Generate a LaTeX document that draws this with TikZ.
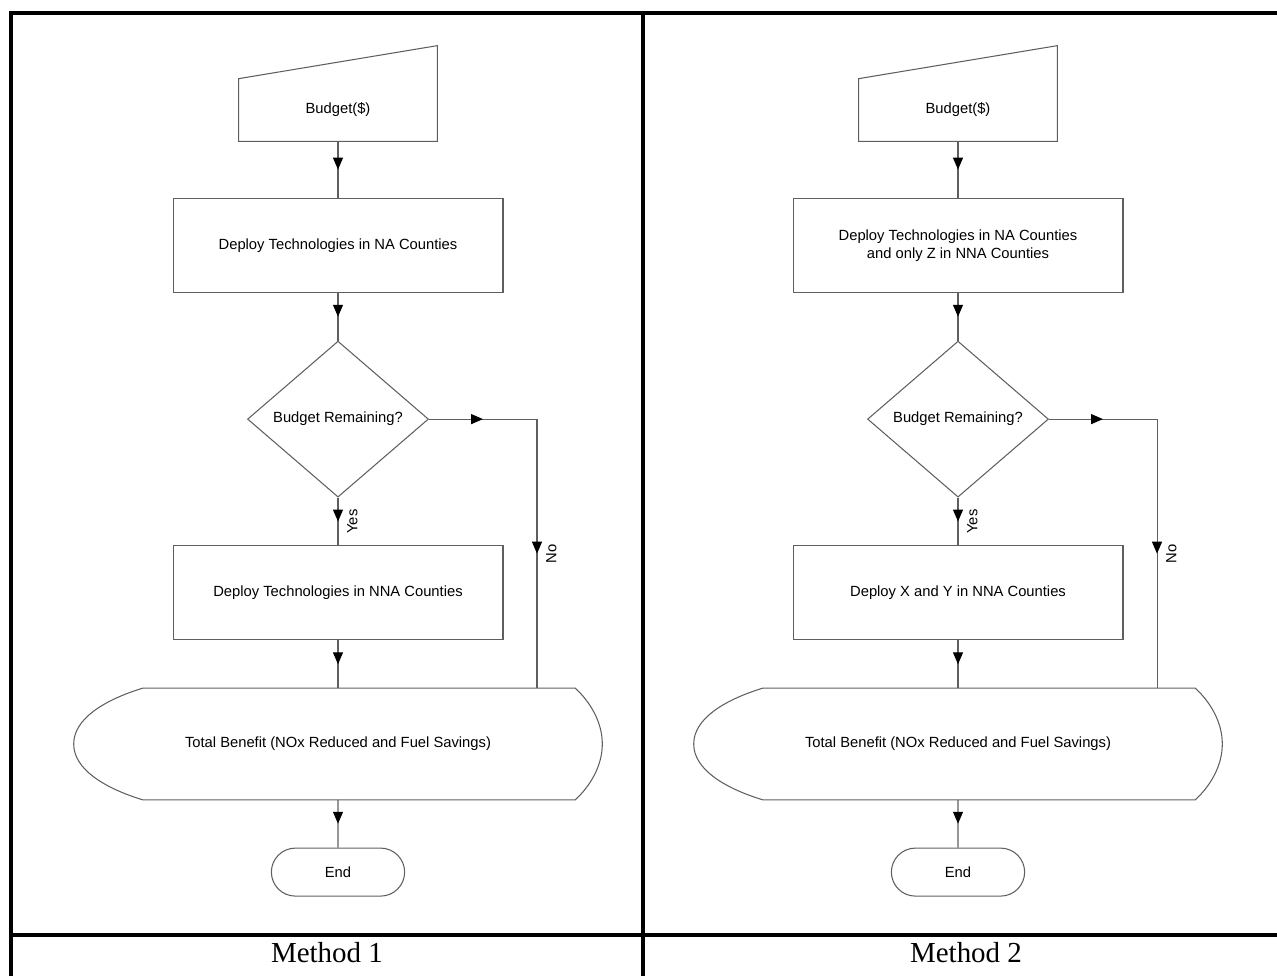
\documentclass[tikz,border=0pt]{standalone}
\usepackage{fontspec}
\setmainfont{Liberation Serif}
\newfontfamily\chartfont{Liberation Sans}
\usepackage{tikz}
\usetikzlibrary{arrows.meta,positioning,calc,shapes.geometric,shapes.misc,
                decorations.markings}
\definecolor{linegray}{RGB}{95,95,95}
\newcommand{\manualinput}[1]{%
  \draw[shapeline] (#1.south west) -- (#1.north west)
    -- ($(#1.north east)+(0,-33)$) -- (#1.south east) -- cycle;}
\newcommand{\displayshape}[1]{%
  \draw[shapeline] ($(#1.north west)+(69,0)$) -- ($(#1.north east)+(-27,0)$)
    .. controls ($(#1.north east)+(-12,14)$) and ($(#1.east)+(0,-22)$) .. (#1.east)
    .. controls ($(#1.east)+(0,22)$) and ($(#1.south east)+(-12,-14)$) .. ($(#1.south east)+(-27,0)$)
    -- ($(#1.south west)+(69,0)$)
    .. controls ($(#1.south west)+(30,-12)$) and ($(#1.west)+(0,25)$) .. (#1.west)
    .. controls ($(#1.west)+(0,-25)$) and ($(#1.north west)+(30,12)$) .. cycle;}

\begin{document}
\begin{tikzpicture}[x=0.02cm,y=-0.02cm,node distance=0.955cm,
  font=\chartfont\fontsize{8.4}{10.2}\selectfont,
  shapeline/.style={draw=linegray,line width=0.6pt},
  inbox/.style={minimum width=3.96cm,minimum height=1.24cm,inner sep=0pt},
  proc/.style={shapeline,minimum width=6.6cm,minimum height=1.88cm,
               align=center,inner sep=0pt},
  decision/.style={shapeline,diamond,aspect=1.15,minimum width=3.62cm,
                   minimum height=3.12cm,inner sep=0pt},
  dispbox/.style={minimum width=10.56cm,minimum height=2.22cm,inner sep=0pt},
  term/.style={shapeline,rounded rectangle,minimum width=2.9cm,
               minimum height=0.96cm},
  flow/.style={draw=linegray,line width=0.6pt,postaction={decorate},
    decoration={markings,mark=at position 0.5 with
      {\arrow{Triangle[width=5.7pt,length=6.8pt,color=black]}}}},
  cond/.style={midway,rotate=90,anchor=north,inner sep=5pt},
  frameline/.style={line width=1.8pt},
  method/.style={font=\fontsize{16.5}{19}\selectfont,anchor=base}]
\useasboundingbox (0,0) rectangle (1277,976);

% frame
\draw[frameline] (1277,13) -| (11,976);
\draw[frameline] (643,13) -- (643,976);
\draw[frameline] (11,935) -- (1277,935);

% method 1
\node[inbox] (bud1) at (338,110) {Budget(\$)};
\manualinput{bud1}
\node[proc,below=1.13cm of bud1] (na1) {Deploy Technologies in NA Counties};
\node[decision,below=of na1] (rem1) {Budget Remaining?};
\node[proc,below=of rem1] (nna1) {Deploy Technologies in NNA Counties};
\node[dispbox,below=of nna1] (tb1) {Total Benefit (NOx Reduced and Fuel Savings)};
\displayshape{tb1}
\node[term,below=of tb1] (end1) {End};
\coordinate (turn1) at ($(rem1.east)+(108,0)$);

\draw[flow] (bud1) -- (na1);
\draw[flow] (na1) -- (rem1);
\draw[flow] (rem1) -- node[cond] {Yes} (nna1);
\draw[flow] (nna1) -- (tb1);
\draw[flow] (tb1) -- (end1);
\draw[flow] (rem1.east) -- (turn1);
\draw[flow] (turn1) -- node[cond] {No} (turn1 |- tb1.north);

% method 2
\node[inbox] (bud2) at (958,110) {Budget(\$)};
\manualinput{bud2}
\node[proc,below=1.13cm of bud2] (na2) {Deploy Technologies in NA Counties\\and only Z in NNA Counties};
\node[decision,below=of na2] (rem2) {Budget Remaining?};
\node[proc,below=of rem2] (nna2) {Deploy X and Y in NNA Counties};
\node[dispbox,below=of nna2] (tb2) {Total Benefit (NOx Reduced and Fuel Savings)};
\displayshape{tb2}
\node[term,below=of tb2] (end2) {End};
\coordinate (turn2) at ($(rem2.east)+(108,0)$);

\draw[flow] (bud2) -- (na2);
\draw[flow] (na2) -- (rem2);
\draw[flow] (rem2) -- node[cond] {Yes} (nna2);
\draw[flow] (nna2) -- (tb2);
\draw[flow] (tb2) -- (end2);
\draw[flow] (rem2.east) -- (turn2);
\draw[flow] (turn2) -- node[cond] {No} (turn2 |- tb2.north);

\node[method] (m1) at (327,962) {Method 1};
\node[method] (m2) at (966,962) {Method 2};
\end{tikzpicture}
\end{document}
